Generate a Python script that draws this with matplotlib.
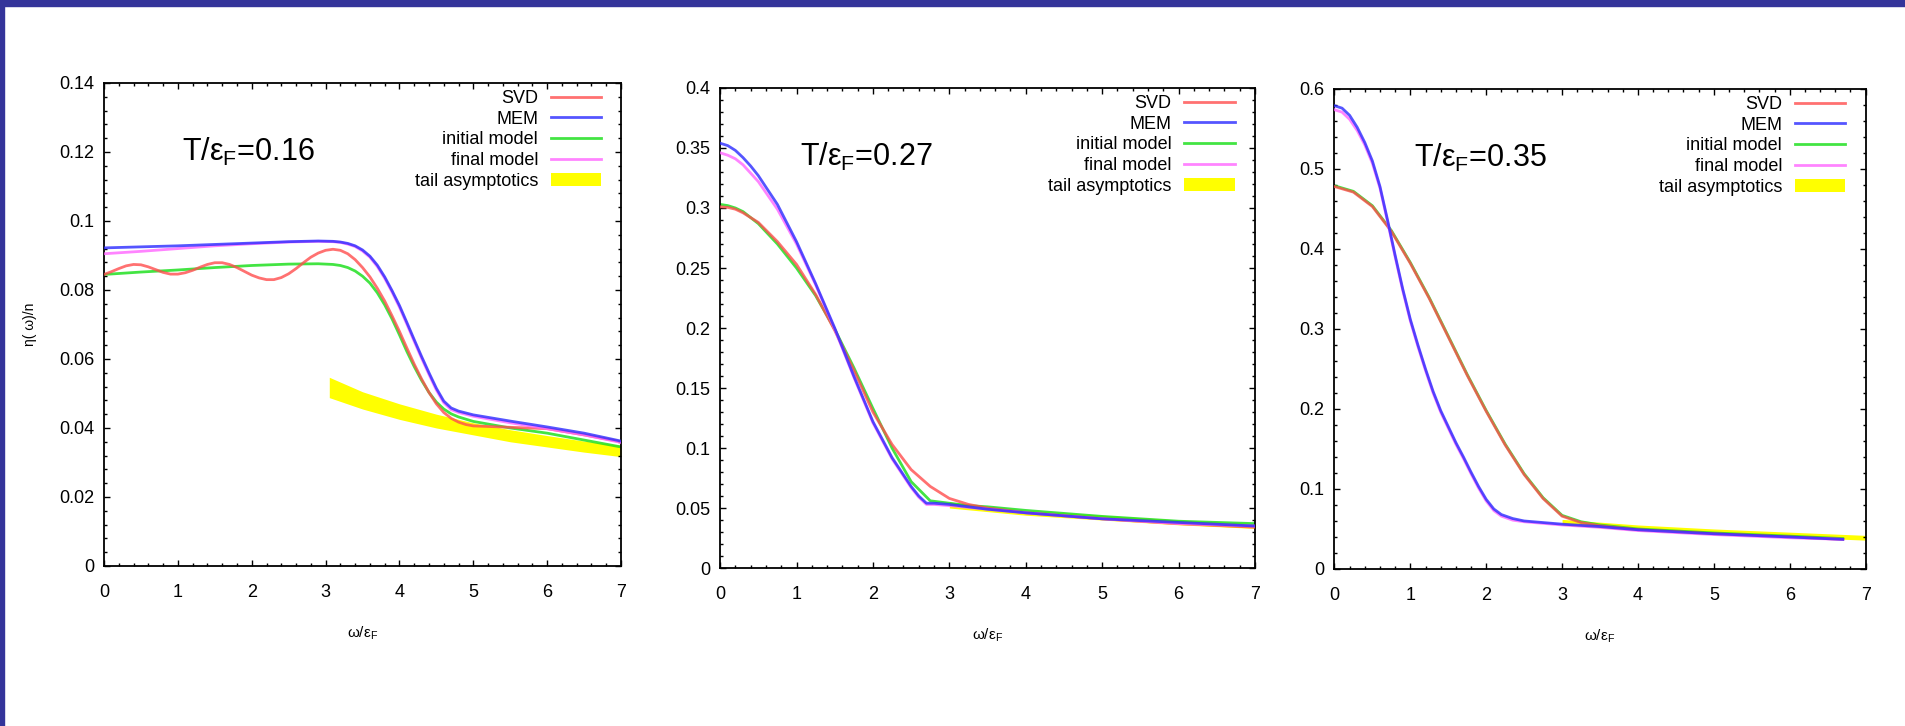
import matplotlib
matplotlib.use("Agg")
import matplotlib.pyplot as plt
from matplotlib.ticker import MultipleLocator, FuncFormatter
from matplotlib.patches import Rectangle

plt.rcParams['font.family'] = ['Liberation Sans Narrow', 'Liberation Sans', 'DejaVu Sans']
plt.rcParams['mathtext.fontset'] = 'custom'
plt.rcParams['mathtext.rm'] = 'Liberation Sans'
plt.rcParams['mathtext.it'] = 'Liberation Sans'

# ---- panel 1 : T/eF = 0.16 ----
p1_mem_x = [0, 0.5, 1, 1.5, 2, 2.5, 2.9, 3.1, 3.2, 3.3, 3.4, 3.5, 3.6, 3.7, 3.8, 3.9, 4.0, 4.1, 4.2,
            4.3, 4.4, 4.5, 4.6, 4.7, 4.8, 5, 5.5, 6, 6.5, 7]
p1_mem_y = [0.0922, 0.0925, 0.0928, 0.0932, 0.0936, 0.0940, 0.0942, 0.0941, 0.0939, 0.0935, 0.0928,
            0.0916, 0.0898, 0.0872, 0.0838, 0.0798, 0.0755, 0.0706, 0.0656, 0.0607, 0.0560, 0.0515,
            0.0478, 0.0458, 0.0449, 0.0438, 0.0420, 0.0403, 0.0385, 0.0362]
p1_fin_y = [0.0905, 0.0912, 0.0920, 0.0928, 0.0934, 0.0939, 0.0941, 0.0940, 0.0938, 0.0933, 0.0926,
            0.0913, 0.0895, 0.0868, 0.0834, 0.0794, 0.0750, 0.0701, 0.0651, 0.0602, 0.0555, 0.0510,
            0.0473, 0.0453, 0.0445, 0.0434, 0.0415, 0.0398, 0.0380, 0.0358]
p1_ini_y = [0.0845, 0.0852, 0.0858, 0.0865, 0.0871, 0.0875, 0.0876, 0.0874, 0.0871, 0.0865, 0.0855,
            0.0840, 0.0820, 0.0792, 0.0757, 0.0716, 0.0670, 0.0622, 0.0578, 0.0538, 0.0503, 0.0475,
            0.0455, 0.0441, 0.0432, 0.0419, 0.0400, 0.0385, 0.0365, 0.0345]
p1_svd_x = [0, 0.1, 0.2, 0.3, 0.4, 0.5, 0.6, 0.7, 0.8, 0.9, 1.0, 1.1, 1.2, 1.3, 1.4, 1.5, 1.6, 1.7, 1.8,
            1.9, 2.0, 2.1, 2.2, 2.3, 2.4, 2.5, 2.6, 2.7, 2.8, 2.9, 3.0, 3.1, 3.2, 3.3, 3.4, 3.5, 3.6, 3.7,
            3.8, 3.9, 4.0, 4.1, 4.2, 4.3, 4.4, 4.5, 4.6, 4.7, 4.8, 4.9, 5.0, 5.5, 6, 6.5, 7]
p1_svd_y = [0.0845, 0.0853, 0.0862, 0.0870, 0.0874, 0.0873, 0.0867, 0.0859, 0.0851, 0.0846, 0.0846,
            0.0850, 0.0857, 0.0866, 0.0874, 0.0879, 0.0879, 0.0874, 0.0865, 0.0854, 0.0843, 0.0835,
            0.0830, 0.0830, 0.0836, 0.0847, 0.0862, 0.0879, 0.0895, 0.0907, 0.0915, 0.0918, 0.0915,
            0.0905, 0.0888, 0.0865, 0.0838, 0.0805, 0.0768, 0.0725, 0.0680, 0.0632, 0.0585, 0.0542,
            0.0503, 0.0470, 0.0445, 0.0428, 0.0417, 0.0410, 0.0406, 0.0402, 0.0398, 0.0380, 0.0360]
p1_tail_x = [3.05, 3.5, 4, 4.5, 5, 5.5, 6, 6.5, 7]
p1_tail_hi = [0.0547, 0.0505, 0.0470, 0.0440, 0.0415, 0.0395, 0.0378, 0.0362, 0.0350]
p1_tail_lo = [0.0488, 0.0455, 0.0425, 0.0400, 0.0380, 0.0360, 0.0345, 0.0330, 0.0317]

# ---- panel 2 : T/eF = 0.27 ----
p2_x = [0, 0.1, 0.2, 0.3, 0.4, 0.5, 0.75, 1.0, 1.25, 1.5, 1.75, 2.0, 2.25, 2.5, 2.6, 2.7, 2.8, 3.0, 3.5,
        4, 5, 6, 7]
p2_mem_y = [0.354, 0.352, 0.348, 0.342, 0.335, 0.327, 0.303, 0.272, 0.237, 0.200, 0.160, 0.122, 0.092,
            0.068, 0.060, 0.054, 0.054, 0.053, 0.049, 0.046, 0.041, 0.038, 0.035]
p2_fin_y = [0.346, 0.344, 0.341, 0.336, 0.329, 0.322, 0.299, 0.270, 0.236, 0.199, 0.159, 0.121, 0.091,
            0.067, 0.059, 0.053, 0.053, 0.052, 0.049, 0.046, 0.041, 0.037, 0.035]
p2_svd_x = [0, 0.1, 0.2, 0.3, 0.4, 0.5, 0.75, 1.0, 1.25, 1.5, 1.75, 2.0, 2.25, 2.5, 2.75, 3.0, 3.25, 3.5,
            4, 5, 6, 7]
p2_svd_y = [0.301, 0.3005, 0.299, 0.296, 0.292, 0.288, 0.272, 0.253, 0.228, 0.198, 0.165, 0.130, 0.103,
            0.082, 0.068, 0.058, 0.053, 0.050, 0.046, 0.041, 0.037, 0.034]
p2_ini_y = [0.303, 0.302, 0.300, 0.297, 0.292, 0.287, 0.270, 0.250, 0.227, 0.199, 0.167, 0.133, 0.100,
            0.072, 0.056, 0.054, 0.052, 0.051, 0.048, 0.043, 0.039, 0.037]
p2_tail_x = [3, 4, 5, 6, 7]
p2_tail_hi = [0.055, 0.048, 0.044, 0.040, 0.037]
p2_tail_lo = [0.050, 0.044, 0.040, 0.036, 0.033]

# ---- panel 3 : T/eF = 0.35 ----
p3_mem_x = [0, 0.1, 0.2, 0.3, 0.4, 0.5, 0.6, 0.7, 0.8, 0.9, 1.0, 1.1, 1.2, 1.3, 1.4, 1.5, 1.6, 1.7, 1.8,
            1.9, 2.0, 2.1, 2.2, 2.35, 2.5, 2.75, 3.0, 3.5, 4, 5, 6, 6.7]
p3_mem_y = [0.579, 0.576, 0.567, 0.552, 0.533, 0.510, 0.478, 0.436, 0.392, 0.350, 0.312, 0.280, 0.250,
            0.222, 0.198, 0.178, 0.158, 0.140, 0.121, 0.103, 0.087, 0.075, 0.068, 0.063, 0.060, 0.058,
            0.056, 0.053, 0.049, 0.044, 0.040, 0.037]
p3_fin_y = [0.574, 0.571, 0.562, 0.548, 0.530, 0.507, 0.476, 0.434, 0.390, 0.348, 0.310, 0.278, 0.248,
            0.220, 0.196, 0.176, 0.156, 0.138, 0.119, 0.101, 0.085, 0.073, 0.066, 0.061, 0.059, 0.057,
            0.055, 0.052, 0.048, 0.043, 0.039, 0.037]
p3_svd_x = [0, 0.25, 0.5, 0.75, 1.0, 1.25, 1.5, 1.75, 2.0, 2.25, 2.5, 2.75, 3.0, 3.25, 3.5, 4, 5, 6, 6.7]
p3_svd_y = [0.478, 0.471, 0.453, 0.422, 0.382, 0.338, 0.290, 0.242, 0.197, 0.155, 0.118, 0.088, 0.066,
            0.058, 0.054, 0.049, 0.044, 0.040, 0.037]
p3_ini_y = [0.479, 0.472, 0.454, 0.423, 0.383, 0.339, 0.291, 0.243, 0.198, 0.156, 0.119, 0.089, 0.067,
            0.059, 0.055, 0.050, 0.045, 0.041, 0.038]
p3_tail_x = [3, 4, 5, 6, 7]
p3_tail_hi = [0.062, 0.055, 0.050, 0.046, 0.042]
p3_tail_lo = [0.055, 0.048, 0.043, 0.040, 0.036]

labels = ['SVD', 'MEM', 'initial model', 'final model', 'tail asymptotics']
temps = ['0.16', '0.27', '0.35']

c_svd = '#ff4d4d'
c_mem = '#2b2bff'
c_ini = '#22e022'
c_fin = '#ff66ff'
c_tail = '#ffff00'


def fmt(v, pos):
    return '%g' % round(v, 4)


def draw_panel(ax, svd_x, svd_y, ini_y, mem_x, mem_y, fin_y, tail_x, tail_lo, tail_hi,
               ymax, ymajor, yminor, temp):
    ini_x = mem_x if len(ini_y) == len(mem_x) else svd_x
    tail = ax.fill_between(tail_x, tail_lo, tail_hi, color=c_tail, lw=0, zorder=1)
    l_ini, = ax.plot(ini_x, ini_y, color=c_ini, lw=2, alpha=0.85, zorder=2)
    l_svd, = ax.plot(svd_x, svd_y, color=c_svd, lw=2, alpha=0.8, zorder=3)
    l_fin, = ax.plot(mem_x, fin_y, color=c_fin, lw=2, alpha=0.8, zorder=3)
    l_mem, = ax.plot(mem_x, mem_y, color=c_mem, lw=2, alpha=0.8, zorder=4)

    ax.set_xlim(0, 7)
    ax.set_ylim(0, ymax)
    ax.xaxis.set_major_locator(MultipleLocator(1))
    ax.xaxis.set_minor_locator(MultipleLocator(0.2))
    ax.yaxis.set_major_locator(MultipleLocator(ymajor))
    ax.yaxis.set_minor_locator(MultipleLocator(yminor))
    ax.yaxis.set_major_formatter(FuncFormatter(fmt))
    ax.tick_params(which='both', direction='in', top=True, right=True, width=1.0, labelsize=13)
    ax.tick_params(which='major', length=4.5)
    ax.tick_params(which='minor', length=2.3)
    ax.tick_params(axis='x', which='major', pad=13)
    ax.tick_params(axis='y', which='major', pad=7)
    for s in ax.spines.values():
        s.set_linewidth(1.3)

    ax.set_xlabel(r'ω/ε$_{\mathrm{F}}$', fontsize=11, labelpad=17)
    ax.text(0.150, 0.857, r'T/ε$_{\mathrm{F}}$=' + temp, transform=ax.transAxes,
            fontsize=22, ha='left', va='center')

    ax.legend([l_svd, l_mem, l_ini, l_fin, tail], labels, loc='upper right',
              bbox_to_anchor=(0.962, 0.985), borderaxespad=0, borderpad=0,
              frameon=False, markerfirst=False, fontsize=13, handlelength=2.8,
              handletextpad=0.7, labelspacing=0.2, handleheight=0.75)


fig = plt.figure(figsize=(19.05, 7.26), dpi=100)
fig.patch.set_facecolor('white')

ax1 = fig.add_axes([0.0546, 0.2204, 0.2714, 0.6653])
ax2 = fig.add_axes([0.3780, 0.2176, 0.2808, 0.6612])
ax3 = fig.add_axes([0.7005, 0.2163, 0.2788, 0.6612])

draw_panel(ax1, p1_svd_x, p1_svd_y, p1_ini_y, p1_mem_x, p1_mem_y, p1_fin_y,
           p1_tail_x, p1_tail_lo, p1_tail_hi, 0.14, 0.02, 0.004, temps[0])
draw_panel(ax2, p2_svd_x, p2_svd_y, p2_ini_y, p2_x, p2_mem_y, p2_fin_y,
           p2_tail_x, p2_tail_lo, p2_tail_hi, 0.4, 0.05, 0.01, temps[1])
draw_panel(ax3, p3_svd_x, p3_svd_y, p3_ini_y, p3_mem_x, p3_mem_y, p3_fin_y,
           p3_tail_x, p3_tail_lo, p3_tail_hi, 0.6, 0.1, 0.02, temps[2])

ax1.set_ylabel('η( ω)/n', fontsize=10, labelpad=16)

# slide frame
fig.patches.append(Rectangle((0, 1 - 6 / 726), 1, 6 / 726, transform=fig.transFigure,
                             color='#34349a', zorder=10))
fig.patches.append(Rectangle((0, 0), 4 / 1905, 1, transform=fig.transFigure,
                             color='#34349a', zorder=10))

fig.savefig('out.png', dpi=100)
